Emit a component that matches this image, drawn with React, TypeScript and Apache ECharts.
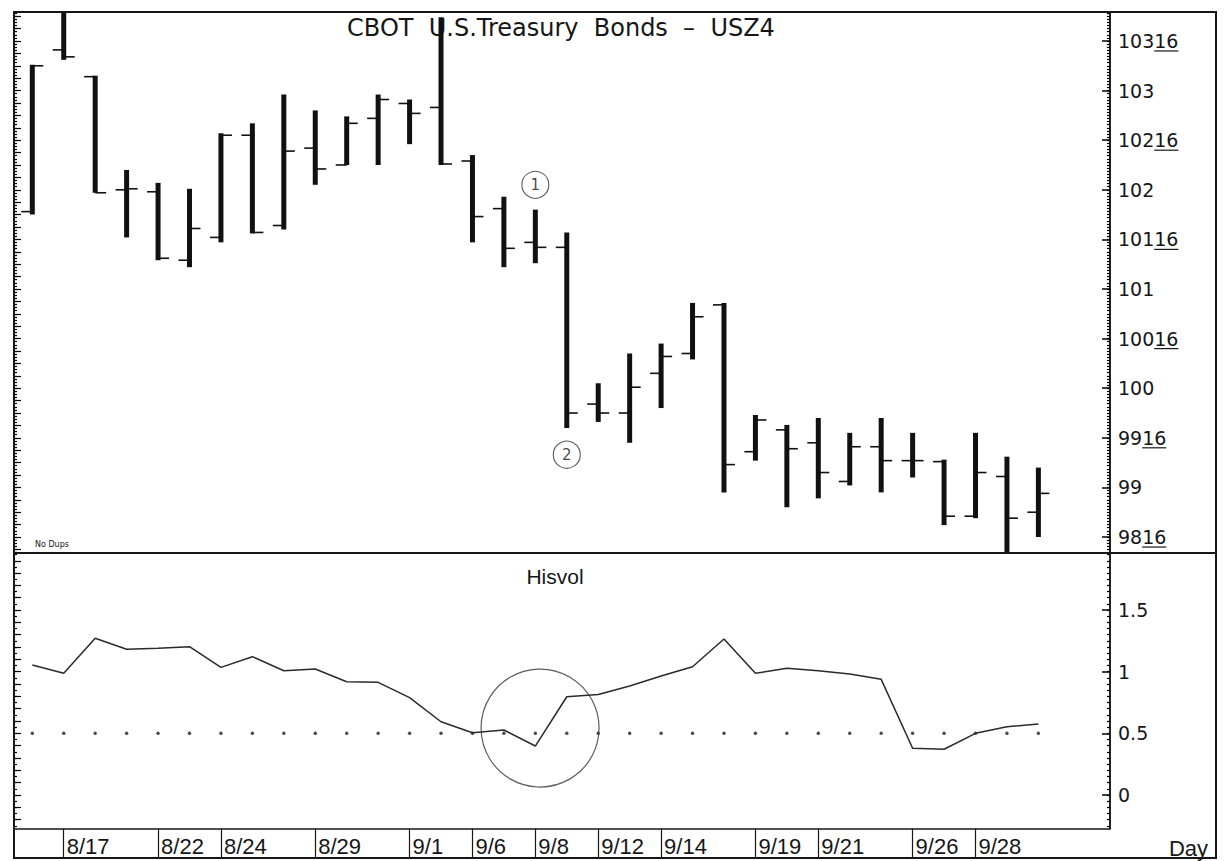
import React, { useEffect, useRef } from 'react';
import * as echarts from 'echarts';

// ---------- data ----------
const dates = ['8/16','8/17','8/18','8/19','8/22','8/23','8/24','8/25','8/26','8/29','8/30','8/31','9/1','9/2','9/6','9/7','9/8','9/9','9/12','9/13','9/14','9/15','9/16','9/19','9/20','9/21','9/22','9/23','9/26','9/27','9/28','9/29','9/30'];
const openP  = [101.78,103.41,103.14,102.00,101.98,101.29,101.52,102.55,101.64,102.42,102.25,102.72,102.87,102.83,102.29,101.81,101.47,101.42,99.84,99.75,100.15,100.35,100.84,99.36,99.58,99.45,99.06,99.41,99.27,99.26,98.71,99.11,98.75];
const highP  = [103.26,103.80,103.15,102.20,102.07,102.01,102.57,102.67,102.96,102.80,102.74,102.96,102.91,103.74,102.35,101.93,101.80,101.57,100.05,100.35,100.45,100.86,100.86,99.73,99.63,99.70,99.55,99.70,99.55,99.28,99.55,99.31,99.20];
const lowP   = [101.75,103.31,101.97,101.52,101.29,101.22,101.47,101.56,101.60,102.05,102.25,102.25,102.46,102.25,101.47,101.22,101.26,99.60,99.66,99.45,99.80,100.29,98.95,99.27,98.80,98.89,99.02,98.95,99.10,98.62,98.69,98.30,98.50];
const closeP = [103.25,103.34,101.97,102.01,101.31,101.61,102.55,101.57,102.39,102.21,102.67,102.91,102.77,102.26,101.73,101.41,101.42,99.75,99.75,100.01,100.32,100.72,99.23,99.68,99.39,99.15,99.41,99.27,99.27,98.71,99.15,98.69,98.94];
const hisvol = [1.054,0.987,1.271,1.182,1.190,1.203,1.035,1.122,1.008,1.022,0.919,0.914,0.790,0.594,0.505,0.527,0.397,0.797,0.815,0.884,0.965,1.040,1.265,0.987,1.028,1.008,0.981,0.938,0.379,0.371,0.500,0.554,0.576];
const refLevel = 0.5;
const labeledDates = ['8/17','8/22','8/24','8/29','9/1','9/6','9/8','9/12','9/14','9/19','9/21','9/26','9/28'];
const priceTicks = [98.5,99,99.5,100,100.5,101,101.5,102,102.5,103,103.5];
const volTicks = [0,0.5,1,1.5];
const priceAnnotations = [{ label: '1', idx: 16, price: 102.05 }, { label: '2', idx: 17, price: 99.33 }];
const volCircle = [[16.15, 0.543]];
const titleText = 'CBOT  U.S.Treasury  Bonds  \u2013  USZ4';

// ---------- layout ----------
const X_MIN = -0.582, X_MAX = 34.278;
const PRICE_MIN = 98.339, PRICE_MAX = 103.792;
const VOL_MIN = -0.272, VOL_MAX = 1.963;
const INK = '#161616';
const DIGIT_W = 12.08;

const range = (a: number, b: number, s: number) => {
  const out: number[] = [];
  for (let k = Math.ceil(a / s - 1e-9); k * s <= b + 1e-9; k++) out.push(+(k * s).toFixed(6));
  return out;
};

const priceMinor = range(PRICE_MIN, PRICE_MAX, 1 / 32);
const priceLeftMajor = range(PRICE_MIN, PRICE_MAX, 1 / 8);
const volMinor = range(VOL_MIN, VOL_MAX, 0.05);
const volLeftMajor = range(VOL_MIN, VOL_MAX, 0.1);
const labeledIdx = labeledDates.map((d) => dates.indexOf(d));

const ohlc = dates.map((_, i) => [i, openP[i], highP[i], lowP[i], closeP[i]]);

const fmtPrice = (v: number) => {
  const n = Math.floor(v + 1e-9);
  return v - n > 0.25 ? `${n}16` : `${n}`;
};

const tickAxis = (grid: number, pos: 'left' | 'right', min: number, max: number, vals: number[], len: number) => ({
  type: 'value', gridIndex: grid, position: pos, min, max,
  axisLine: { show: true, onZero: false, lineStyle: { color: INK, width: 1.5 } },
  axisTick: { show: true, inside: true, length: len, customValues: vals, lineStyle: { color: '#000', width: 1.2 } },
  axisLabel: { show: false },
  splitLine: { show: false },
});

const baseGraphic: any[] = [
  { type: 'rect', shape: { x: 14, y: 12, width: 1202, height: 846 }, style: { fill: 'none', stroke: INK, lineWidth: 2 }, z: 50 },
  { type: 'line', shape: { x1: 14, y1: 553, x2: 1216, y2: 553 }, style: { stroke: INK, lineWidth: 2 }, z: 50 },
  { type: 'text', x: 561, y: 28, style: { text: titleText, fontSize: 24, fontFamily: 'DejaVu Sans', fill: INK, align: 'center', verticalAlign: 'middle', textAlign: 'center', textVerticalAlign: 'middle' }, z: 1 },
  { type: 'text', x: 555, y: 576, style: { text: 'Hisvol', fontSize: 21, fontFamily: 'Liberation Sans', fill: INK, align: 'center', verticalAlign: 'middle', textAlign: 'center', textVerticalAlign: 'middle' } },
  { type: 'text', x: 1208, y: 848, style: { text: 'Day', fontSize: 22, fontFamily: 'Liberation Sans', fill: INK, align: 'right', verticalAlign: 'middle', textAlign: 'right', textVerticalAlign: 'middle' } },
  { type: 'text', x: 35, y: 544, style: { text: 'No Dups', fontSize: 8, fontFamily: 'DejaVu Sans', fill: INK, align: 'left', verticalAlign: 'middle', textAlign: 'left', textVerticalAlign: 'middle' } },
];

const option: any = {
  animation: false,
  backgroundColor: '#ffffff',
  grid: [
    { left: 14, top: 12, width: 1096, height: 541 },
    { left: 14, top: 553, width: 1096, height: 275.5 },
  ],
  xAxis: [
    { type: 'value', gridIndex: 0, min: X_MIN, max: X_MAX, show: false, axisLine: { onZero: false } },
    {
      type: 'value', gridIndex: 1, min: X_MIN, max: X_MAX, position: 'bottom',
      axisLine: { show: true, onZero: false, lineStyle: { color: INK, width: 1.5 } },
      axisTick: { show: true, inside: false, length: 30, customValues: labeledIdx, lineStyle: { color: INK, width: 1.2 } },
      axisLabel: {
        show: true, customValues: labeledIdx, formatter: (v: number) => dates[Math.round(v)],
        align: 'left', margin: 7, padding: [0, 0, 0, 3], fontSize: 22, fontFamily: 'Liberation Sans', color: INK,
      },
      splitLine: { show: false },
    },
  ],
  yAxis: [
    {
      type: 'value', gridIndex: 0, position: 'right', min: PRICE_MIN, max: PRICE_MAX,
      axisLine: { show: true, onZero: false, lineStyle: { color: INK, width: 1.5 } },
      axisTick: { show: true, inside: true, length: 8, customValues: priceTicks, lineStyle: { color: '#000', width: 1.5 } },
      axisLabel: { show: true, customValues: priceTicks, formatter: fmtPrice, margin: 8, fontSize: 19, fontFamily: 'DejaVu Sans', color: INK },
      splitLine: { show: false },
    },
    tickAxis(0, 'right', PRICE_MIN, PRICE_MAX, priceMinor, 3),
    tickAxis(0, 'left', PRICE_MIN, PRICE_MAX, priceLeftMajor, 7),
    tickAxis(0, 'left', PRICE_MIN, PRICE_MAX, priceMinor, 3),
    {
      type: 'value', gridIndex: 1, position: 'right', min: VOL_MIN, max: VOL_MAX,
      axisLine: { show: true, onZero: false, lineStyle: { color: INK, width: 1.5 } },
      axisTick: { show: true, inside: true, length: 8, customValues: volTicks, lineStyle: { color: '#000', width: 1.5 } },
      axisLabel: { show: true, customValues: volTicks, formatter: (v: number) => `${v}`, margin: 8, fontSize: 19, fontFamily: 'DejaVu Sans', color: INK },
      splitLine: { show: false },
    },
    tickAxis(1, 'right', VOL_MIN, VOL_MAX, volMinor, 3),
    tickAxis(1, 'left', VOL_MIN, VOL_MAX, volLeftMajor, 7),
    tickAxis(1, 'left', VOL_MIN, VOL_MAX, volMinor, 3),
  ],
  series: [
    {
      type: 'custom', name: 'USZ4', xAxisIndex: 0, yAxisIndex: 0, clip: true,
      data: ohlc,
      encode: { x: 0, y: [1, 2, 3, 4] },
      renderItem: (_params: any, api: any) => {
        const i = api.value(0);
        const o = api.coord([i, api.value(1)]);
        const h = api.coord([i, api.value(2)]);
        const l = api.coord([i, api.value(3)]);
        const c = api.coord([i, api.value(4)]);
        const x = h[0];
        return {
          type: 'group',
          children: [
            { type: 'line', shape: { x1: x, y1: h[1], x2: x, y2: l[1] }, style: { stroke: '#111', lineWidth: 5 } },
            { type: 'line', shape: { x1: x - 11, y1: o[1], x2: x, y2: o[1] }, style: { stroke: '#111', lineWidth: 1.6 } },
            { type: 'line', shape: { x1: x, y1: c[1], x2: x + 11, y2: c[1] }, style: { stroke: '#111', lineWidth: 1.6 } },
          ],
        };
      },
      z: 3,
    },
    {
      type: 'scatter', name: 'notes', xAxisIndex: 0, yAxisIndex: 0,
      data: priceAnnotations.map((a) => ({ value: [a.idx, a.price], name: a.label })),
      symbol: 'circle', symbolSize: 27,
      itemStyle: { color: 'rgba(0,0,0,0)', borderColor: '#333', borderWidth: 1.1 },
      label: { show: true, position: 'inside', formatter: (p: any) => p.name, fontSize: 15, fontFamily: 'DejaVu Sans', color: INK },
      z: 4,
    },
    {
      type: 'line', name: 'Hisvol', xAxisIndex: 1, yAxisIndex: 4,
      data: hisvol.map((v, i) => [i, v]),
      showSymbol: false, symbol: 'none',
      lineStyle: { color: '#2a2a2a', width: 1.5 },
      z: 3,
    },
    {
      type: 'scatter', name: 'level', xAxisIndex: 1, yAxisIndex: 4,
      data: dates.map((_, i) => [i, refLevel]),
      symbol: 'circle', symbolSize: 3.5,
      itemStyle: { color: '#222' },
      z: 2,
    },
    {
      type: 'scatter', name: 'ring', xAxisIndex: 1, yAxisIndex: 4,
      data: volCircle,
      symbol: 'circle', symbolSize: 118,
      itemStyle: { color: 'rgba(0,0,0,0)', borderColor: '#333', borderWidth: 1.2 },
      z: 4,
    },
  ],
  graphic: baseGraphic,
};

export default function App() {
  const ref = useRef<HTMLDivElement>(null);
  useEffect(() => {
    document.body.style.margin = '0';
    document.body.style.overflow = 'hidden';
    const chart = echarts.init(ref.current!, null, { renderer: 'svg' });
    chart.setOption(option);
    const axisX = chart.convertToPixel({ xAxisIndex: 0 }, X_MAX) as number;
    const underlines = priceTicks
      .filter((p) => p % 1 !== 0)
      .map((p) => {
        const y = chart.convertToPixel({ yAxisIndex: 0 }, p) as number;
        const intLen = String(Math.floor(p)).length;
        const x0 = axisX + 8 + intLen * DIGIT_W;
        return { type: 'line', shape: { x1: x0, y1: y + 10, x2: x0 + 2 * DIGIT_W, y2: y + 10 }, style: { stroke: INK, lineWidth: 1.2 } };
      });
    chart.setOption({ graphic: [...baseGraphic, ...underlines] });
    return () => chart.dispose();
  }, []);
  return <div ref={ref} style={{ width: 1225, height: 861 }} />;
}
